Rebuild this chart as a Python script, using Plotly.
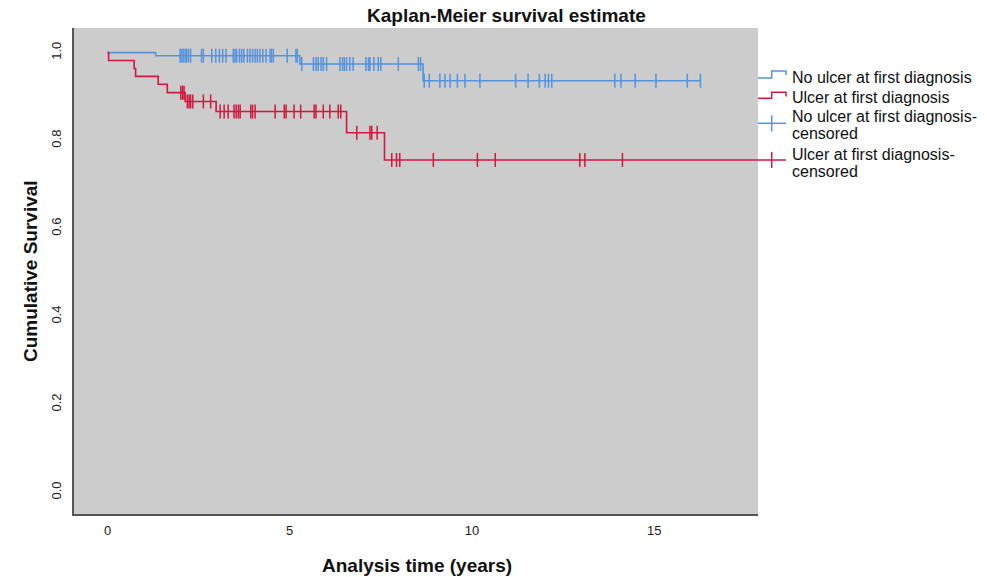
import plotly.graph_objects as go

# ---------------- data ----------------
blue_event_times = [1.32, 5.28, 8.66]
blue_event_surv = [0.993, 0.974, 0.936]
blue_last_time = 16.27
blue_censor_times = [1.99, 2.03, 2.08, 2.13, 2.17, 2.22, 2.28, 2.58, 2.63, 2.86, 2.97, 3.07,
                     3.16, 3.25, 3.45, 3.50, 3.54, 3.62, 3.68, 3.74, 3.84, 3.91, 3.98, 4.05,
                     4.11, 4.18, 4.26, 4.35, 4.46, 4.50, 4.55, 4.93, 5.17, 5.21,
                     5.33, 5.65, 5.72, 5.78, 5.86, 5.92, 6.01, 6.38, 6.45, 6.50, 6.56, 6.65,
                     6.74, 7.09, 7.16, 7.20, 7.31, 7.43, 7.50, 7.98, 8.53, 8.59,
                     8.69, 8.83, 9.12, 9.26, 9.40, 9.60, 9.81, 10.22, 11.20, 11.54, 11.85,
                     12.01, 12.10, 12.19, 13.92, 14.09, 14.48, 15.05, 15.91, 16.27]

red_event_times = [0.03, 0.73, 0.77, 1.39, 1.64, 2.13, 2.98, 6.56, 7.60]
red_event_surv = [0.982, 0.964, 0.946, 0.928, 0.909, 0.889, 0.866, 0.818, 0.756]
red_last_time = 18.5
red_censor_times = [2.01, 2.06, 2.10,
                    2.19, 2.24, 2.28, 2.34, 2.63, 2.83,
                    3.09, 3.20, 3.31, 3.47, 3.53, 3.59, 3.64, 3.93, 3.98, 4.05, 4.60, 4.85,
                    4.90, 5.12, 5.30, 5.67, 5.72, 5.92, 6.10, 6.33, 6.40,
                    6.84, 7.20, 7.25, 7.40,
                    7.80, 7.93, 8.02, 8.94, 10.15, 10.64, 12.96, 13.10, 14.13]

series_names = ["No ulcer at first diagnosis", "Ulcer at first diagnosis"]
x_tick_vals = [0, 5, 10, 15]
y_tick_vals = [0.0, 0.2, 0.4, 0.6, 0.8, 1.0]
y_tick_text = ["0.0", "0.2", "0.4", "0.6", "0.8", "1.0"]

BLUE = "#5393e0"
RED = "#d3173f"
FONT = "Liberation Sans, Arial, Helvetica, sans-serif"


def step_curve(event_times, event_surv, last_time):
    xs = [0.0] + list(event_times) + [last_time]
    ys = [1.0] + list(event_surv) + [event_surv[-1]]
    return xs, ys


def surv_at(event_times, event_surv, t):
    s = 1.0
    for et, es in zip(event_times, event_surv):
        if et <= t:
            s = es
    return s


fig = go.Figure()

for ev_t, ev_s, last, col, name in [
    (blue_event_times, blue_event_surv, blue_last_time, BLUE, series_names[0]),
    (red_event_times, red_event_surv, red_last_time, RED, series_names[1]),
]:
    xs, ys = step_curve(ev_t, ev_s, last)
    fig.add_trace(go.Scatter(x=xs, y=ys, mode="lines", line=dict(color=col, width=1.6, shape="hv"),
                             name=name, showlegend=False, hoverinfo="skip"))

for ev_t, ev_s, cens, col, name in [
    (blue_event_times, blue_event_surv, blue_censor_times, BLUE, series_names[0] + "-censored"),
    (red_event_times, red_event_surv, red_censor_times, RED, series_names[1] + "-censored"),
]:
    cy = [surv_at(ev_t, ev_s, t) for t in cens]
    fig.add_trace(go.Scatter(x=cens, y=cy, mode="markers",
                             marker=dict(symbol="line-ns", size=10, color=col,
                                         line=dict(color=col, width=1.5)),
                             name=name, showlegend=False))

# ---------------- layout ----------------
L, R, T, B = 74, 758, 28, 514
W, H = 987, 577


def px(x):
    return (x - L) / (R - L)


def py(y):
    return 1 - (y - T) / (B - T)


shapes = []
annotations = []

# legend icons
legend_icons = [
    (BLUE, 78, 71, 75),
    (RED, 98.3, 92.3, 96.5),
]
for col, ylo, yhi, yend in legend_icons:
    path = (f"M {px(758)},{py(ylo)} L {px(771.7)},{py(ylo)} L {px(771.7)},{py(yhi)} "
            f"L {px(786)},{py(yhi)} L {px(786)},{py(yend)}")
    shapes.append(dict(type="path", xref="paper", yref="paper", path=path,
                       line=dict(color=col, width=1.5)))
for col, yc in [(BLUE, 123.3), (RED, 160)]:
    shapes.append(dict(type="line", xref="paper", yref="paper", x0=px(758), x1=px(786),
                       y0=py(yc), y1=py(yc), line=dict(color=col, width=1.5)))
    shapes.append(dict(type="line", xref="paper", yref="paper", x0=px(771.7), x1=px(771.7),
                       y0=py(yc - 8), y1=py(yc + 8), line=dict(color=col, width=1.5)))

legend_lines = [
    (series_names[0], 77.7),
    (series_names[1], 97.7),
    (series_names[0] + "-", 116.5),
    ("censored", 133.5),
    (series_names[1] + "-", 154.5),
    ("censored", 171),
]
for txt, yc in legend_lines:
    annotations.append(dict(text=txt, xref="paper", yref="paper", x=px(790), y=py(yc),
                            xanchor="left", yanchor="middle", showarrow=False,
                            font=dict(family=FONT, size=16, color="#111")))

# titles
annotations.append(dict(text="<b>Kaplan-Meier survival estimate</b>", xref="paper", yref="paper",
                        x=px(365), y=py(16), xanchor="left", yanchor="middle", showarrow=False,
                        font=dict(family=FONT, size=19, color="#111")))
annotations.append(dict(text="<b>Analysis time (years)</b>", xref="paper", yref="paper",
                        x=px(417), y=py(565), xanchor="center", yanchor="middle", showarrow=False,
                        font=dict(family=FONT, size=19, color="#111")))
annotations.append(dict(text="<b>Cumulative Survival</b>", xref="paper", yref="paper",
                        x=px(30), y=py(271), xanchor="center", yanchor="middle", showarrow=False,
                        textangle=-90, font=dict(family=FONT, size=19, color="#111")))

fig.update_layout(
    width=W, height=H,
    margin=dict(l=L, r=W - R, t=T, b=H - B, pad=0),
    paper_bgcolor="white",
    plot_bgcolor="#cccccc",
    showlegend=False,
    shapes=shapes,
    annotations=annotations,
    xaxis=dict(range=[-0.92, 17.85], tickvals=x_tick_vals, showgrid=False, zeroline=False,
               showline=True, linecolor="#555", linewidth=1.5, ticks="outside", ticklen=4,
               tickcolor="rgba(0,0,0,0)", tickfont=dict(family=FONT, size=13, color="#222")),
    yaxis=dict(range=[-0.049, 1.056], tickvals=y_tick_vals, ticktext=y_tick_text,
               tickangle=-90, showgrid=False, zeroline=False,
               showline=True, linecolor="#555", linewidth=1.5, ticks="outside", ticklen=6,
               tickcolor="rgba(0,0,0,0)", tickfont=dict(family=FONT, size=13, color="#222")),
)

fig.write_html("out.html", config={"displayModeBar": False},
               post_script="document.body.style.margin='0';document.body.style.overflow='hidden';")
